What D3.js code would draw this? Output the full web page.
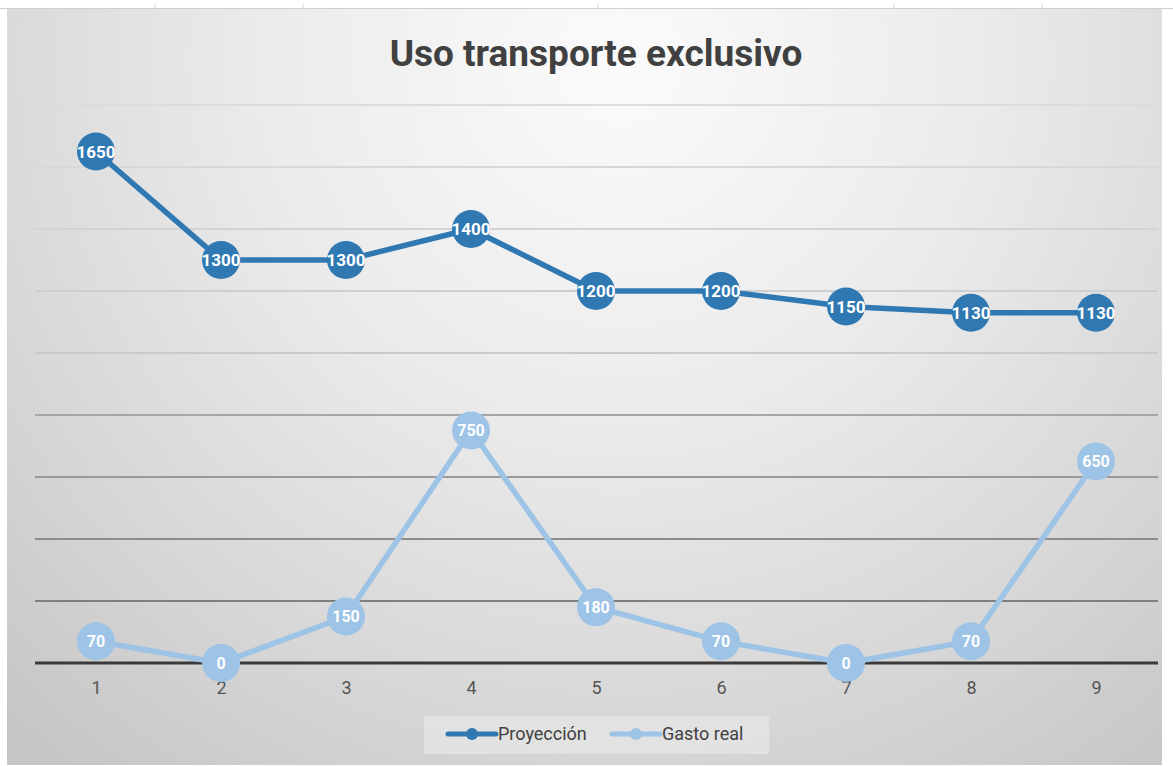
<!DOCTYPE html>
<html>
<head>
<meta charset="utf-8">
<script src="https://cdn.jsdelivr.net/npm/d3@7"></script>
<style>
  html, body { margin: 0; padding: 0; background: #fff; }
  svg { display: block; }
</style>
</head>
<body>
<script>
const periods = [1, 2, 3, 4, 5, 6, 7, 8, 9];
const proyeccion = [1650, 1300, 1300, 1400, 1200, 1200, 1150, 1130, 1130];
const gastoReal = [70, 0, 150, 750, 180, 70, 0, 70, 650];
const seriesNames = ['Proyección', 'Gasto real'];
const yTicks = [0, 200, 400, 600, 800, 1000, 1200, 1400, 1600, 1800];

const W = 1173, H = 766;
const FONT = '"Liberation Sans Narrow", "Roboto", "DejaVu Sans Condensed", sans-serif';
const COLORS = ['#2f78b2', '#9dc3e6'];

const svg = d3.select('body').append('svg')
    .attr('width', W)
    .attr('height', H);

const defs = svg.append('defs');
const bg = defs.append('radialGradient')
    .attr('id', 'bg')
    .attr('gradientUnits', 'userSpaceOnUse')
    .attr('cx', 620).attr('cy', 60).attr('r', 900)
    .attr('fx', 620).attr('fy', 60);
bg.append('stop').attr('offset', 0).attr('stop-color', '#fbfbfb');
bg.append('stop').attr('offset', 0.4).attr('stop-color', '#ebebeb');
bg.append('stop').attr('offset', 0.75).attr('stop-color', '#d6d6d6');
bg.append('stop').attr('offset', 1).attr('stop-color', '#c6c6c6');

// spreadsheet strip above the chart
svg.append('line')
    .attr('x1', 0).attr('x2', W).attr('y1', 8.5).attr('y2', 8.5)
    .attr('stroke', '#cfcfcf');
[155, 303, 598, 894, 1042].forEach(x => {
    svg.append('line')
        .attr('x1', x).attr('x2', x).attr('y1', 4).attr('y2', 8)
        .attr('stroke', '#d8d8d8');
});

svg.append('rect')
    .attr('x', 7).attr('y', 9)
    .attr('width', 1155).attr('height', 756)
    .attr('fill', 'url(#bg)');

const x = d3.scalePoint().domain(periods).range([96, 1096]);
const y = d3.scaleLinear().domain([0, 1800]).range([663, 105]);
const gridColor = d3.scaleLinear()
    .domain([105, 353, 415, 601])
    .range(['#dcdcdc', '#cacaca', '#a6a6a6', '#7f7f7f']);

// gridlines
const grid = svg.append('g');
yTicks.filter(t => t > 0).forEach(t => {
    grid.append('line')
        .attr('x1', 35).attr('x2', 1158)
        .attr('y1', y(t)).attr('y2', y(t))
        .attr('stroke', gridColor(y(t)))
        .attr('stroke-width', 2);
});

// baseline
svg.append('line')
    .attr('x1', 35).attr('x2', 1158)
    .attr('y1', y(0)).attr('y2', y(0))
    .attr('stroke', '#3a3a3a')
    .attr('stroke-width', 3);

// x tick labels
const xAxis = d3.axisBottom(x).tickSize(0).tickPadding(0);
const xg = svg.append('g')
    .attr('transform', `translate(0, ${y(0) + 25})`)
    .call(xAxis);
xg.select('.domain').remove();
xg.selectAll('text')
    .attr('dy', '0.35em')
    .attr('font-family', FONT)
    .attr('font-size', 18)
    .attr('fill', '#555');

// title
svg.append('text')
    .attr('x', 596).attr('y', 66)
    .attr('text-anchor', 'middle')
    .attr('font-family', FONT)
    .attr('font-weight', 'bold')
    .attr('font-size', 37)
    .attr('fill', '#404040')
    .text('Uso transporte exclusivo');

const line = d3.line()
    .x((d, i) => x(periods[i]))
    .y(d => y(d));

[proyeccion, gastoReal].forEach((values, s) => {
    const g = svg.append('g');
    g.append('path')
        .datum(values)
        .attr('d', line)
        .attr('fill', 'none')
        .attr('stroke', COLORS[s])
        .attr('stroke-width', 5.5)
        .attr('stroke-linejoin', 'round');
    g.selectAll('circle')
        .data(values)
        .join('circle')
        .attr('cx', (d, i) => x(periods[i]))
        .attr('cy', d => y(d))
        .attr('r', 19)
        .attr('fill', COLORS[s]);
    g.selectAll('text')
        .data(values)
        .join('text')
        .attr('x', (d, i) => x(periods[i]))
        .attr('y', d => y(d))
        .attr('dy', '0.36em')
        .attr('text-anchor', 'middle')
        .attr('font-family', FONT)
        .attr('font-weight', 'bold')
        .attr('font-size', s === 0 ? 17 : 16)
        .attr('fill', '#fff')
        .text(d => d);
});

// legend
const legend = svg.append('g');
legend.append('rect')
    .attr('x', 424).attr('y', 716)
    .attr('width', 345).attr('height', 38)
    .attr('fill', '#e6e6e6')
    .attr('opacity', 0.75);
const legendX = [448, 612];
seriesNames.forEach((name, s) => {
    const lg = legend.append('g').attr('transform', `translate(${legendX[s]}, 734)`);
    lg.append('line')
        .attr('x1', 0).attr('x2', 48)
        .attr('stroke', COLORS[s])
        .attr('stroke-width', 5)
        .attr('stroke-linecap', 'round');
    lg.append('circle')
        .attr('cx', 24).attr('r', 6)
        .attr('fill', COLORS[s]);
    lg.append('text')
        .attr('x', 50)
        .attr('dy', '0.35em')
        .attr('font-family', FONT)
        .attr('font-size', 18)
        .attr('fill', '#404040')
        .text(name);
});
</script>
</body>
</html>
